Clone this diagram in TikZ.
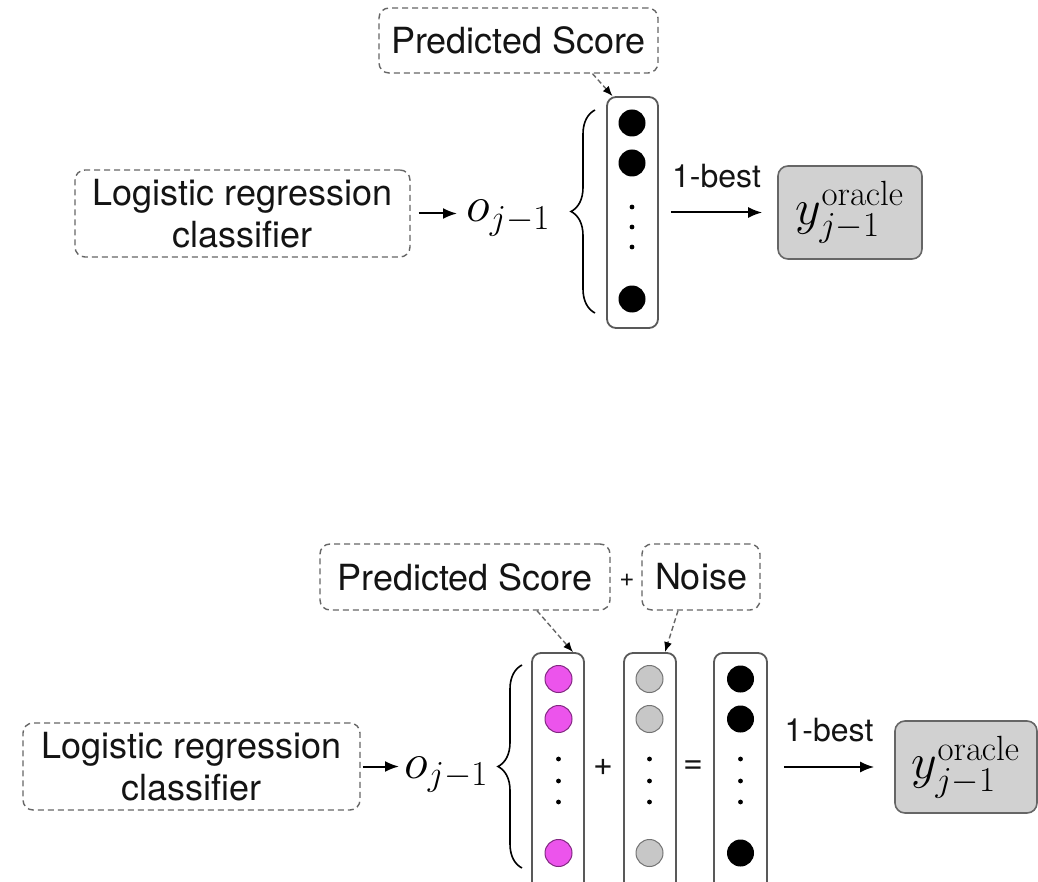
\RequirePackage{fix-cm}
\documentclass[tikz,border=0pt]{standalone}
\usepackage[no-math]{fontspec}
\setmainfont{TeX Gyre Heros}
\usetikzlibrary{arrows.meta,decorations.pathreplacing}
\definecolor{pinkfill}{RGB}{236,84,236}
\definecolor{pinkedge}{RGB}{130,40,130}
\definecolor{ink}{RGB}{20,20,20}

\begin{document}
\begin{tikzpicture}[x=0.5pt,y=-0.5pt,
  txt/.style={font=\fontsize{18}{21}\selectfont, text=ink},
  dbox/.style={draw=black!60, dash pattern=on 3pt off 2pt, line width=0.7pt,
    rounded corners=5pt, inner sep=0pt, align=center, txt},
  colbox/.style={draw=black!65, line width=0.9pt, rounded corners=4.5pt, inner sep=0pt},
  unit/.style={circle, inner sep=0pt, minimum size=13.5pt, line width=0.5pt},
  blk/.style={unit, fill=black},
  pnk/.style={unit, fill=pinkfill, draw=pinkedge},
  gry/.style={unit, fill=black!22, draw=black!55},
  vdot/.style={circle, fill=black, inner sep=0pt, minimum size=2.4pt},
  arr/.style={line width=1pt, -{Latex[length=7pt,width=5.5pt]}},
  darr/.style={draw=black!60, line width=0.7pt, dash pattern=on 2.5pt off 1.5pt,
    -{Latex[length=5pt,width=4pt,color=black]}},
  brc/.style={decorate, decoration={brace, amplitude=12pt}, line width=0.8pt},
  mth/.style={inner sep=0pt, font=\fontsize{25}{29}\selectfont},
  orc/.style={draw=black!60, fill=black!18, line width=0.8pt, rounded corners=5pt,
    inner sep=0pt, mth},
  lbl/.style={font=\fontsize{16}{19}\selectfont, inner sep=0pt, text=ink},
  sym/.style={inner sep=0pt, text=ink},
]
\useasboundingbox (0,0) rectangle (1038,882);
\clip (0,0) rectangle (1038,882);

% ---------- plain 1-best selection ----------
\node[dbox, minimum width=139.5pt, minimum height=32.5pt] (ps1) at (518.5,40.5) {Predicted Score};
\node[dbox, minimum width=167.5pt, minimum height=43.5pt] (lr1) at (242.5,213.5)
  {Logistic regression\\classifier};
\node[mth, anchor=base west] (o1) at (466,222) {$o_{j-1}$};
\node[colbox, minimum width=25.5pt, minimum height=115.5pt] (col1) at (632.5,212.5) {};
\foreach \y [count=\i] in {123,163,299} \node[blk] (t\i) at (632,\y) {};
\foreach \y [count=\i] in {207,227,247} \node[vdot] (td\i) at (632,\y) {};
\draw[brc] (595,313) -- (595,110);
\node[orc, minimum width=72pt, minimum height=46.5pt] (yo1) at (850,212.5)
  {$y^{\mathrm{oracle}}_{j-1}$};

\draw[arr, shorten >=4.5pt] ([xshift=4pt]lr1.east) -- (lr1.east -| o1.west);
\draw[darr] ([xshift=37pt]ps1.south) -- ([xshift=-10pt]col1.north);
\draw[arr] ([xshift=6pt]col1.east |- yo1.west) --
  node[lbl, above=12pt] {1-best} ([xshift=-7.5pt]yo1.west);

% ---------- 1-best selection with noise ----------
\node[dbox, minimum width=145pt, minimum height=33pt] (ps2) at (465,577) {Predicted Score};
\node[sym, font=\fontsize{13}{15}\selectfont] (pl1) at (627,580) {+};
\node[dbox, minimum width=59pt, minimum height=33pt] (ns2) at (701,577) {Noise};
\node[dbox, minimum width=168.5pt, minimum height=43.5pt] (lr2) at (191.5,766.5)
  {Logistic regression\\classifier};
\node[mth, anchor=base west] (o2) at (404,778) {$o_{j-1}$};
\draw[brc] (522,868) -- (522,665);

\node[colbox, minimum width=26pt, minimum height=123.5pt] (cola) at (558,776.5) {};
\node[colbox, minimum width=26pt, minimum height=123.5pt] (colb) at (650,776.5) {};
\node[colbox, minimum width=26.5pt, minimum height=123.5pt] (colc) at (740.5,776.5) {};
\foreach \y [count=\i] in {679,719,853} {
  \node[pnk] (a\i) at (558.5,\y) {};
  \node[gry] (b\i) at (649.5,\y) {};
  \node[blk] (c\i) at (740.5,\y) {};
}
\foreach \y [count=\i] in {759,781,802} {
  \node[vdot] (ad\i) at (558.5,\y) {};
  \node[vdot] (bd\i) at (649.5,\y) {};
  \node[vdot] (cd\i) at (740.5,\y) {};
}
\node[sym, font=\fontsize{17}{20}\selectfont] (pl2) at (603,767) {+};
\node[sym, font=\fontsize{17}{20}\selectfont] (eq2) at (693,767) {=};
\node[orc, minimum width=71pt, minimum height=46pt] (yo2) at (966,767)
  {$y^{\mathrm{oracle}}_{j-1}$};

\draw[arr, shorten >=2.5pt] ([xshift=1pt]lr2.east) -- (lr2.east -| o2.west);
\draw[darr] ([xshift=36pt]ps2.south) -- ([xshift=7.5pt]cola.north);
\draw[darr] ([xshift=-11.5pt]ns2.south) -- ([xshift=7.5pt]colb.north);
\draw[arr] ([xshift=8pt]colc.east |- yo2.west) --
  node[lbl, above=12pt] {1-best} ([xshift=-10pt]yo2.west);
\end{tikzpicture}
\end{document}
